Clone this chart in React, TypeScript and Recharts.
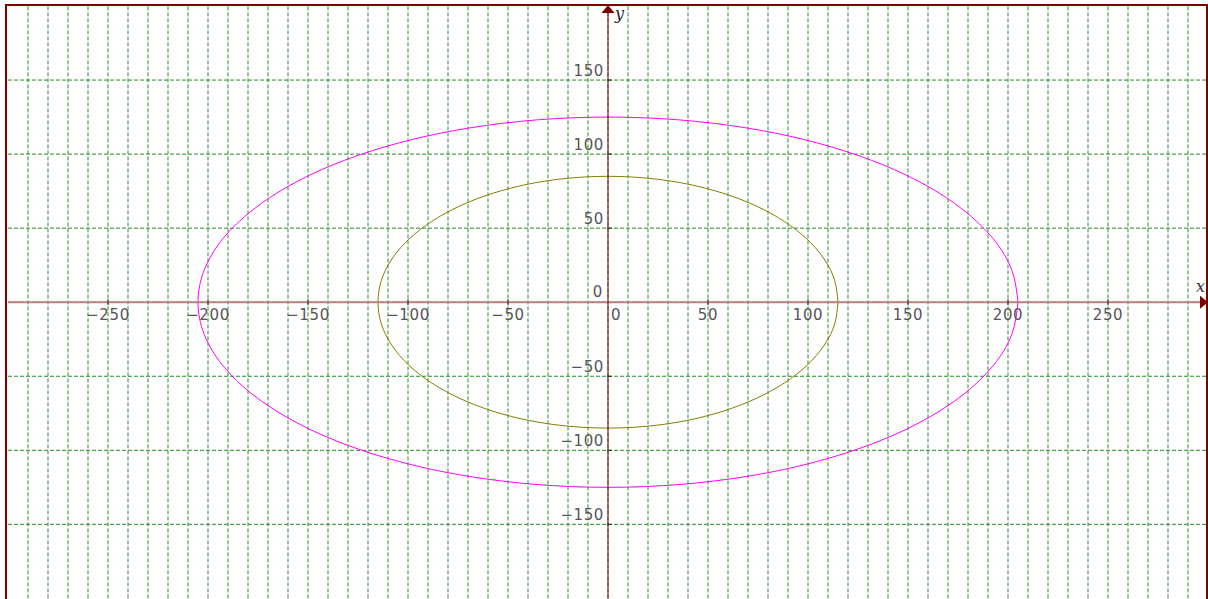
import {
  ComposedChart,
  Line,
  XAxis,
  YAxis,
  ReferenceLine,
  ReferenceDot,
} from "recharts";

// grid positions (x every 10, y every 50)
const xGridTicks = [
  -290, -280, -270, -260, -250, -240, -230, -220, -210, -200, -190, -180, -170, -160, -150,
  -140, -130, -120, -110, -100, -90, -80, -70, -60, -50, -40, -30, -20, -10, 0, 10, 20, 30,
  40, 50, 60, 70, 80, 90, 100, 110, 120, 130, 140, 150, 160, 170, 180, 190, 200, 210, 220,
  230, 240, 250, 260, 270, 280, 290,
];
const yGridTicks = [-150, -100, -50, 0, 50, 100, 150];

// labelled ticks
const xLabelTicks = [-250, -200, -150, -100, -50, 50, 100, 150, 200, 250];
const yLabelTicks = [150, 100, 50, -50, -100, -150];

// outer (magenta) ellipse, going round once
const outerX = [
  205, 201.9, 192.6, 177.5, 157.0, 131.8, 102.5, 70.1, 35.6, 0, -35.6, -70.1, -102.5, -131.8,
  -157.0, -177.5, -192.6, -201.9, -205, -201.9, -192.6, -177.5, -157.0, -131.8, -102.5, -70.1,
  -35.6, 0, 35.6, 70.1, 102.5, 131.8, 157.0, 177.5, 192.6, 201.9, 205,
];
const outerY = [
  0, 21.7, 42.8, 62.5, 80.4, 95.8, 108.3, 117.5, 123.1, 125, 123.1, 117.5, 108.3, 95.8, 80.4,
  62.5, 42.8, 21.7, 0, -21.7, -42.8, -62.5, -80.4, -95.8, -108.3, -117.5, -123.1, -125, -123.1,
  -117.5, -108.3, -95.8, -80.4, -62.5, -42.8, -21.7, 0,
];

// inner (olive) ellipse
const innerX = [
  115, 113.3, 108.1, 99.6, 88.1, 73.9, 57.5, 39.3, 20.0, 0, -20.0, -39.3, -57.5, -73.9, -88.1,
  -99.6, -108.1, -113.3, -115, -113.3, -108.1, -99.6, -88.1, -73.9, -57.5, -39.3, -20.0, 0,
  20.0, 39.3, 57.5, 73.9, 88.1, 99.6, 108.1, 113.3, 115,
];
const innerY = [
  0, 14.8, 29.1, 42.5, 54.6, 65.1, 73.6, 79.9, 83.7, 85, 83.7, 79.9, 73.6, 65.1, 54.6, 42.5,
  29.1, 14.8, 0, -14.8, -29.1, -42.5, -54.6, -65.1, -73.6, -79.9, -83.7, -85, -83.7, -79.9,
  -73.6, -65.1, -54.6, -42.5, -29.1, -14.8, 0,
];

const outerData = outerX.map((x, i) => ({ x, y: outerY[i] }));
const innerData = innerX.map((x, i) => ({ x, y: innerY[i] }));

const fmt = (v: number) => (v < 0 ? "\u2212" + Math.abs(v) : String(v));

const textStyle = {
  fontFamily: "'DejaVu Sans', sans-serif",
  fontSize: 15,
  letterSpacing: 0.6,
  fill: "#555",
};

function XTick({ cx, cy, value }: any) {
  return (
    <g>
      <line x1={cx} x2={cx} y1={cy - 3} y2={cy + 3} stroke="#222" />
      <text x={cx} y={cy + 18} textAnchor="middle" {...textStyle}>
        {fmt(value)}
      </text>
    </g>
  );
}

function YTick({ cx, cy, value }: any) {
  return (
    <g>
      <line x1={cx - 1} x2={cx + 4} y1={cy} y2={cy} stroke="#222" />
      <text x={cx - 4} y={cy - 4} textAnchor="end" {...textStyle}>
        {fmt(value)}
      </text>
    </g>
  );
}

function Origin({ cx, cy }: any) {
  return (
    <g>
      <text x={cx - 5} y={cy - 5} textAnchor="end" {...textStyle}>
        0
      </text>
      <text x={cx + 3} y={cy + 18} textAnchor="start" {...textStyle}>
        0
      </text>
    </g>
  );
}

function XArrow({ cx, cy }: any) {
  return (
    <g>
      <path d={`M${cx},${cy} L${cx - 8},${cy - 6.5} L${cx - 8},${cy + 6.5} Z`} fill="#800000" />
      <text
        x={cx - 12}
        y={cy - 10}
        fontFamily="'DejaVu Serif', serif"
        fontStyle="italic"
        fontSize={16}
        fill="#333"
      >
        x
      </text>
    </g>
  );
}

function YArrow({ cx, cy }: any) {
  return (
    <g>
      <path d={`M${cx},${cy - 1} L${cx - 6.5},${cy + 7} L${cx + 6.5},${cy + 7} Z`} fill="#800000" />
      <text
        x={cx + 7}
        y={cy + 13}
        fontFamily="'DejaVu Serif', serif"
        fontStyle="italic"
        fontSize={16}
        fill="#222"
      >
        y
      </text>
    </g>
  );
}

const gridColor = "#2a8a2a";

export default function App() {
  return (
    <div style={{ position: "absolute", left: 0, top: 0, width: 1208, height: 599, overflow: "hidden" }}>
      <ComposedChart
        width={1208}
        height={600}
        margin={{ top: 6, right: 0, bottom: 1.6, left: 8 }}
      >
        <XAxis type="number" dataKey="x" domain={[-300, 300]} allowDataOverflow hide />
        <YAxis type="number" dataKey="y" domain={[-200, 200]} allowDataOverflow hide />
        {xGridTicks.map((t) => (
          <ReferenceLine key={"gx" + t} x={t} stroke={gridColor} strokeDasharray="4 2" />
        ))}
        {yGridTicks.map((t) => (
          <ReferenceLine key={"gy" + t} y={t} stroke={gridColor} strokeDasharray="4 2" />
        ))}
        <Line
          data={outerData}
          dataKey="y"
          type="natural"
          stroke="#ff00ff"
          strokeWidth={1}
          dot={false}
          activeDot={false}
          isAnimationActive={false}
        />
        <Line
          data={innerData}
          dataKey="y"
          type="natural"
          stroke="#808000"
          strokeWidth={1}
          dot={false}
          activeDot={false}
          isAnimationActive={false}
        />
        <ReferenceLine y={0} stroke="#c08080" strokeWidth={2} />
        <ReferenceLine x={0} stroke="#800000" strokeWidth={1} />
        {xLabelTicks.map((v) => (
          <ReferenceDot
            key={"xt" + v}
            x={v}
            y={0}
            r={0}
            ifOverflow="visible"
            shape={(p: any) => <XTick {...p} value={v} />}
          />
        ))}
        {yLabelTicks.map((v) => (
          <ReferenceDot
            key={"yt" + v}
            x={0}
            y={v}
            r={0}
            ifOverflow="visible"
            shape={(p: any) => <YTick {...p} value={v} />}
          />
        ))}
        <ReferenceDot x={0} y={0} r={0} ifOverflow="visible" shape={(p: any) => <Origin {...p} />} />
        <ReferenceDot x={300} y={0} r={0} ifOverflow="visible" shape={(p: any) => <XArrow {...p} />} />
        <ReferenceDot x={0} y={200} r={0} ifOverflow="visible" shape={(p: any) => <YArrow {...p} />} />
      </ComposedChart>
      <div
        style={{
          position: "absolute",
          left: 5,
          top: 4,
          width: 1203,
          height: 620,
          border: "2px solid #800000",
          boxSizing: "border-box",
          pointerEvents: "none",
        }}
      />
    </div>
  );
}
